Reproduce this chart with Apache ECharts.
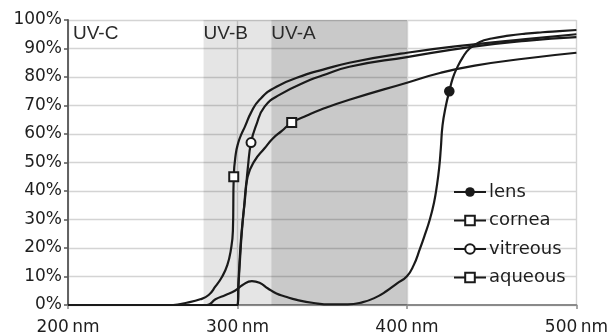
<!DOCTYPE html>
<html>
<head>
<meta charset="utf-8">
<script src="https://cdn.jsdelivr.net/npm/echarts@6/dist/echarts.min.js"></script>
<style>
html,body{margin:0;padding:0;background:#fff;}
#chart{width:611px;height:336px;}
</style>
</head>
<body>
<div id="chart"></div>
<script>
// ---- data ----
const xTicks = [200, 300, 400, 500];
const yTicks = [0,10,20,30,40,50,60,70,80,90,100];

const bandStart = [200, 280, 320];
const bandEnd   = [280, 320, 400];
const bandLabel = ['UV-C', 'UV-B', 'UV-A'];

const seriesNames = ['lens', 'cornea', 'vitreous', 'aqueous'];

const lensNm  = [200,282,287,293,298.5,303,308.5,313,318,323,328,335,345,355,365,374,381,388,394,400,404,407.6,410.5,413.5,416,417.6,419,420,421,423,425,427,429,433,437,443,450,460,470,480,490,500];
const lensPct = [0,0,2,3.5,5,7,8.4,7.8,5.8,4,3,1.8,0.7,0.2,0.2,1,2.5,4.9,7.5,10.1,14,19.6,24.5,30,36,41.6,48,55,63,70,75,79.5,82.5,87,90,92.3,93.5,94.5,95.2,95.7,96.1,96.5];
const lensMarkerNm = 425;

const corneaNm  = [200,262,270,278,283,287,291,294,296,297.3,297.8,299,300.5,302,304.4,308,313,323,341,350,366,400,437,470,500];
const corneaPct = [0,0,0.8,2,3.5,6.5,10,14,19,26,45,53,57,59.5,62.6,67.5,72,76.6,81,82.5,85,88.5,91.3,93.3,95];
const corneaMarkerNm = 297.8;

const vitreousNm  = [200,300,300.6,301.5,302.5,304.4,306.2,308,311,316,325,343,350,366,400,437,470,500];
const vitreousPct = [0,0,8,18,26,37,48.6,57,63,69.6,73.8,79,80.5,83.6,87,90.5,92.7,94];
const vitreousMarkerNm = 308;

const aqueousNm  = [200,300,300.6,301.5,302.5,304,306,310,316,321,326,332,341,349,366,400,420,440,470,500];
const aqueousPct = [0,0,7,16,25,35,45,50.5,55,58.5,61,64,66.5,68.5,72,78,81.5,84,86.5,88.5];
const aqueousMarkerNm = 332;

// ---- chart ----
const INK = '#1a1a1a';
const bandColors = ['rgba(0,0,0,0)', 'rgba(0,0,0,0.10)', 'rgba(0,0,0,0.21)'];

function build(nm, pct, markerNm, symbol) {
  return nm.map((x, i) => {
    if (x === markerNm) {
      return {
        value: [x, pct[i]],
        symbol: symbol,
        symbolSize: 9,
        itemStyle: { color: INK, borderColor: INK, borderWidth: 1.6 }
      };
    }
    return { value: [x, pct[i]], symbol: 'none' };
  });
}

const defs = [
  { nm: lensNm, pct: lensPct, m: lensMarkerNm, sym: 'circle' },
  { nm: corneaNm, pct: corneaPct, m: corneaMarkerNm, sym: 'emptyRect' },
  { nm: vitreousNm, pct: vitreousPct, m: vitreousMarkerNm, sym: 'emptyCircle' },
  { nm: aqueousNm, pct: aqueousPct, m: aqueousMarkerNm, sym: 'emptyRect' }
];

const series = [{
  name: 'bands',
  type: 'line',
  data: [],
  silent: true,
  z: 1,
  markArea: {
    silent: true,
    label: {
      show: true,
      position: 'insideTopLeft',
      distance: 0,
      color: '#2a2a2a',
      fontFamily: 'Liberation Sans, Arial, sans-serif',
      fontSize: 19
    },
    data: bandStart.map((s, i) => [
      {
        name: bandLabel[i],
        xAxis: s,
        yAxis: 100,
        itemStyle: { color: bandColors[i] },
        label: { offset: [i === 0 ? 5 : 0, 4] }
      },
      { xAxis: bandEnd[i], yAxis: 0 }
    ])
  }
}];

defs.forEach((d, i) => {
  series.push({
    name: seriesNames[i],
    type: 'line',
    z: 3,
    smooth: 0.5,
    symbol: d.sym,
    symbolSize: 9,
    showSymbol: true,
    lineStyle: { color: INK, width: 2.2 },
    itemStyle: { color: INK, borderColor: INK },
    emphasis: { disabled: true },
    data: build(d.nm, d.pct, d.m, d.sym)
  });
});

const chart = echarts.init(document.getElementById('chart'), null, { renderer: 'canvas' });
chart.setOption({
  animation: false,
  backgroundColor: '#ffffff',
  grid: { left: 68, right: 34.5, top: 20, bottom: 30, containLabel: false },
  legend: {
    data: seriesNames,
    orient: 'vertical',
    left: 453,
    top: 183,
    padding: 0,
    itemWidth: 32,
    itemHeight: 12,
    itemGap: 10.5,
    textStyle: { color: '#1e1e1e', fontFamily: 'DejaVu Sans, sans-serif', fontSize: 18, padding: [0,0,0,-2] },
    selectedMode: false
  },
  xAxis: {
    type: 'value',
    min: xTicks[0],
    max: xTicks[xTicks.length - 1],
    interval: xTicks[1] - xTicks[0],
    axisLine: { show: true, lineStyle: { color: '#8a8a8a', width: 1.8 } },
    axisTick: { show: true, length: 4, lineStyle: { color: '#8a8a8a', width: 1.5 } },
    splitLine: { show: true, lineStyle: { color: '#d4d4d4', width: 1.4 } },
    axisLabel: {
      color: '#1e1e1e',
      fontFamily: 'DejaVu Sans, sans-serif',
      fontSize: 17,
      margin: 14,
      formatter: v => v + '\u2009nm'
    }
  },
  yAxis: {
    type: 'value',
    min: yTicks[0],
    max: yTicks[yTicks.length - 1],
    interval: yTicks[1] - yTicks[0],
    axisLine: { show: true, lineStyle: { color: '#555', width: 1.8 } },
    axisTick: { show: true, length: 4, lineStyle: { color: '#555', width: 1.5 } },
    splitLine: { show: true, lineStyle: { color: '#d4d4d4', width: 1.4 } },
    axisLabel: {
      color: '#1e1e1e',
      fontFamily: 'DejaVu Sans, sans-serif',
      fontSize: 17,
      margin: 6,
      formatter: '{value}%'
    }
  },
  series: series
});
</script>
</body>
</html>
